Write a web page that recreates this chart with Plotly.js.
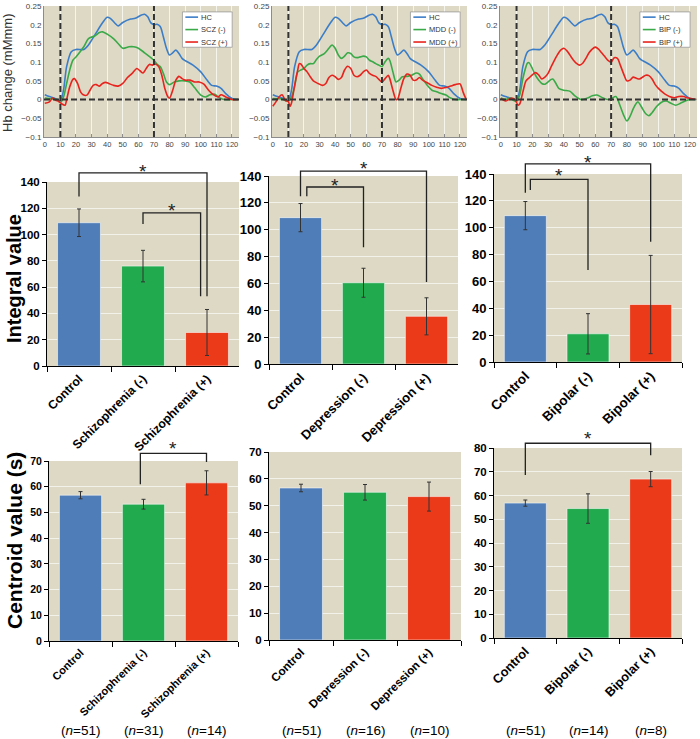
<!DOCTYPE html>
<html>
<head>
<meta charset="utf-8">
<script src="https://cdn.plot.ly/plotly-3.0.1.min.js"></script>
<style>
  body { margin: 0; background: #fff; }
  #graph { width: 700px; height: 739px; }
</style>
</head>
<body>
<div id="graph"></div>
<script>
// 時間軸の目盛り (s)
const timeTicks = [0, 10, 20, 30, 40, 50, 60, 70, 80, 90, 100, 110, 120];

// HC（健常者）の波形 — 3つのグラフで共通
const hcT = [0, 3, 6, 8, 10, 12, 14, 17, 20, 25, 28, 32, 37, 40, 42, 45, 47, 50, 55, 58, 62, 64, 66, 68, 70, 72, 74, 76, 78, 80, 82, 84, 86, 88, 90, 95, 100, 104, 107, 110, 113, 116, 120, 124];
const hcV = [0.013, 0.008, 0.004, 0, -0.004, 0.025, 0.088, 0.128, 0.134, 0.134, 0.146, 0.172, 0.205, 0.22, 0.217, 0.204, 0.197, 0.206, 0.215, 0.217, 0.226, 0.228, 0.221, 0.205, 0.2, 0.201, 0.195, 0.168, 0.137, 0.119, 0.125, 0.132, 0.123, 0.11, 0.104, 0.092, 0.074, 0.052, 0.038, 0.036, 0.03, 0.016, 0.003, 0];

// 統合失調症
const sczNegT = [0, 4, 8, 10, 12, 14, 16, 18, 20, 25, 28, 32, 35, 37, 40, 44, 47, 50, 54, 57, 60, 64, 68, 70, 72, 74, 76, 78, 80, 83, 86, 90, 93, 96, 100, 103, 106, 109, 112, 115, 120, 124];
const sczNegV = [0.004, 0.002, 0, -0.008, 0.007, 0.043, 0.079, 0.105, 0.114, 0.141, 0.163, 0.17, 0.179, 0.181, 0.175, 0.163, 0.15, 0.137, 0.141, 0.141, 0.137, 0.125, 0.112, 0.105, 0.094, 0.088, 0.07, 0.047, 0.04, 0.047, 0.05, 0.05, 0.047, 0.032, 0.012, 0.007, 0.013, 0.014, 0.005, 0, 0, 0];
const sczPosT = [0, 3, 5, 7, 9, 11, 13, 14, 16, 18, 19, 21, 23, 25, 27, 29, 31, 33, 35, 37, 39, 41, 44, 47, 50, 53, 56, 59, 61, 63, 65, 67, 69, 71, 73, 75, 77, 79, 80, 82, 84, 86, 88, 90, 93, 96, 99, 102, 105, 108, 111, 113, 116, 120, 124];
const sczPosV = [-0.01, -0.006, 0.004, -0.002, -0.005, -0.012, -0.015, 0, 0.034, 0.054, 0.056, 0.043, 0.02, 0.012, 0.012, 0.025, 0.038, 0.04, 0.036, 0.043, 0.046, 0.043, 0.038, 0.036, 0.043, 0.059, 0.07, 0.083, 0.077, 0.071, 0.083, 0.094, 0.092, 0.095, 0.088, 0.065, 0.029, 0.007, 0.004, 0.025, 0.052, 0.062, 0.056, 0.052, 0.052, 0.047, 0.047, 0.041, 0.025, 0.013, 0.007, 0.013, 0.007, 0, 0];

// うつ病
const mddNegT = [0, 5, 10, 12, 14, 16, 18, 20, 22, 24, 26, 28, 30, 33, 36, 38, 40, 42, 44, 46, 48, 50, 52, 54, 56, 58, 60, 62, 64, 66, 68, 70, 72, 74, 75, 77, 79, 81, 83, 86, 89, 92, 94, 96, 99, 102, 105, 108, 111, 114, 117, 120, 124];
const mddNegV = [0.003, 0.002, -0.004, 0.007, 0.035, 0.074, 0.079, 0.083, 0.092, 0.096, 0.096, 0.107, 0.116, 0.123, 0.137, 0.146, 0.137, 0.119, 0.11, 0.116, 0.125, 0.123, 0.114, 0.112, 0.114, 0.116, 0.114, 0.105, 0.101, 0.096, 0.092, 0.088, 0.101, 0.11, 0.105, 0.074, 0.047, 0.052, 0.061, 0.062, 0.065, 0.071, 0.068, 0.056, 0.038, 0.025, 0.021, 0.016, 0.012, 0.004, 0, 0, 0];
const mddPosT = [0, 2, 4, 6, 8, 10, 11, 12, 14, 16, 17, 18, 20, 22, 24, 26, 29, 32, 34, 36, 38, 40, 42, 44, 46, 48, 50, 52, 54, 56, 58, 60, 62, 64, 66, 68, 70, 72, 74, 75, 77, 79, 80, 82, 84, 86, 88, 90, 92, 94, 96, 99, 102, 105, 108, 111, 114, 117, 120, 122, 124];
const mddPosV = [-0.018, -0.006, 0.007, 0.013, -0.002, -0.006, -0.018, -0.009, 0.038, 0.079, 0.096, 0.095, 0.083, 0.074, 0.061, 0.05, 0.043, 0.038, 0.043, 0.059, 0.065, 0.061, 0.054, 0.059, 0.079, 0.089, 0.083, 0.065, 0.061, 0.065, 0.074, 0.079, 0.07, 0.065, 0.062, 0.054, 0.047, 0.056, 0.065, 0.056, 0.025, 0, 0.001, 0.029, 0.056, 0.068, 0.065, 0.052, 0.052, 0.059, 0.052, 0.045, 0.038, 0.033, 0.03, 0.032, 0.036, 0.04, 0.042, 0.02, 0];

// 双極性障害
const bipNegT = [0, 3, 6, 8, 10, 12, 14, 16, 17, 18, 20, 22, 24, 26, 28, 30, 32, 33, 35, 37, 40, 44, 47, 51, 55, 58, 61, 65, 68, 70, 73, 76, 78, 80, 82, 84, 86, 87, 90, 92, 94, 96, 99, 102, 105, 108, 111, 114, 117, 120, 124];
const bipNegV = [0.004, 0, 0.004, -0.002, -0.005, 0.012, 0.056, 0.088, 0.098, 0.098, 0.083, 0.065, 0.052, 0.043, 0.041, 0.047, 0.054, 0.055, 0.043, 0.029, 0.025, 0.022, 0.01, 0, 0.004, 0.01, 0.012, 0.004, 0, 0.002, 0.008, -0.02, -0.042, -0.057, -0.045, -0.025, -0.01, -0.006, -0.025, -0.038, -0.043, -0.035, -0.018, -0.007, -0.004, -0.01, -0.015, -0.01, -0.004, 0, 0];
const bipPosT = [0, 3, 5, 7, 9, 11, 12, 14, 16, 18, 20, 22, 24, 26, 28, 30, 32, 34, 36, 38, 40, 42, 44, 46, 48, 50, 52, 54, 56, 58, 60, 62, 64, 66, 68, 70, 72, 74, 76, 78, 80, 82, 84, 86, 88, 90, 92, 94, 96, 98, 100, 102, 104, 107, 110, 113, 116, 119, 124];
const bipPosV = [0.003, -0.004, 0, 0.004, 0, -0.015, -0.012, 0.02, 0.05, 0.058, 0.066, 0.072, 0.066, 0.055, 0.06, 0.07, 0.088, 0.105, 0.12, 0.132, 0.137, 0.13, 0.118, 0.106, 0.097, 0.092, 0.097, 0.11, 0.125, 0.135, 0.14, 0.135, 0.125, 0.115, 0.105, 0.1, 0.112, 0.11, 0.09, 0.068, 0.05, 0.052, 0.06, 0.057, 0.055, 0.06, 0.065, 0.064, 0.055, 0.04, 0.03, 0.022, 0.015, 0.008, 0.005, 0.008, 0.008, 0.004, 0];

const sczNames = ["HC", "SCZ (-)", "SCZ (+)"];
const mddNames = ["HC", "MDD (-)", "MDD (+)"];
const bipNames = ["HC", "BIP (-)", "BIP (+)"];

// 棒グラフのカテゴリ
const sczCats = ["Control", "Schizophrenia (-)", "Schizophrenia (+)"];
const depCats = ["Control", "Depression (-)", "Depression (+)"];
const bipCats = ["Control", "Bipolar (-)", "Bipolar (+)"];

// Integral value（平均 ± 誤差）
const sczIntMean = [109, 76, 25.5];
const sczIntErr = [10.5, 12, 17.5];
const depIntMean = [109, 60.5, 35.5];
const depIntErr = [10.5, 10.8, 13.8];
const bipIntMean = [109, 21, 42.8];
const bipIntErr = [10.5, 15, 36.6];

// Centroid value (s)
const sczCenMean = [56.7, 53.2, 61.5];
const sczCenErr = [1.4, 1.9, 4.7];
const depCenMean = [56.6, 55.0, 53.4];
const depCenErr = [1.4, 2.9, 5.4];
const bipCenMean = [56.8, 54.5, 66.9];
const bipCenErr = [1.3, 6.2, 3.2];

// 人数
const sczN = [51, 31, 14];
const depN = [51, 16, 10];
const bipN = [51, 14, 8];

// ---- 見た目の設定 ----
const W = 700, H = 739;
const FONT = "Liberation Sans, Arial, sans-serif";
const BG = "#ddd9c4";
const LINE_COLORS = ["#3b7dc8", "#3aa948", "#e8221d"];
const BAR_COLORS = ["#4f7db8", "#22aa4f", "#ea3a1a"];

// 各グラフの描画領域（ピクセル）
const topBoxes = [[44, 239, 6, 137], [272, 467, 6, 137], [500, 697, 6, 137]];
const midBoxes = [[47, 239, 182, 366], [269, 458, 176, 364], [494, 682, 174, 362]];
const botBoxes = [[49, 238, 461, 641], [269, 461, 452, 640], [494, 682, 448, 638]];

function sfx(k) { return k === 1 ? "" : String(k); }
function xDom(b) { return [b[0] / W, b[1] / W]; }
function yDom(b) { return [1 - b[3] / H, 1 - b[2] / H]; }
// カテゴリ番号 → x domain 内の位置
function catDom(i) { return (i + 0.5) / 3; }

const data = [];
const layout = {
  width: W, height: H,
  margin: { l: 0, r: 0, t: 0, b: 0 },
  paper_bgcolor: "#ffffff",
  plot_bgcolor: BG,
  font: { family: FONT, color: "#000" },
  showlegend: false,
  bargap: 0.33,
  shapes: [],
  annotations: []
};

// ---- 上段：Hb 変化の波形 ----
const topGroups = [
  { series: [[hcT, hcV], [sczNegT, sczNegV], [sczPosT, sczPosV]], names: sczNames },
  { series: [[hcT, hcV], [mddNegT, mddNegV], [mddPosT, mddPosV]], names: mddNames },
  { series: [[hcT, hcV], [bipNegT, bipNegV], [bipPosT, bipPosV]], names: bipNames }
];

topGroups.forEach((g, i) => {
  const k = i + 1, s = sfx(k), b = topBoxes[i];
  layout["xaxis" + s] = {
    domain: xDom(b), anchor: "y" + s, range: [-0.5, 124.5],
    tickmode: "array", tickvals: timeTicks, tickangle: 0,
    tickfont: { size: 7.5, color: "#444" },
    showgrid: true, gridcolor: "rgba(255,255,255,0.7)", gridwidth: 1,
    zeroline: false, showline: true, linecolor: "#8c8c8c",
    ticks: "inside", ticklen: 3, tickcolor: "#8c8c8c", fixedrange: true
  };
  layout["yaxis" + s] = {
    domain: yDom(b), anchor: "x" + s, range: [-0.1, 0.25], dtick: 0.05, tick0: 0,
    tickfont: { size: 8, color: "#444" },
    showgrid: false, zeroline: false, showline: true, linecolor: "#8c8c8c",
    fixedrange: true
  };
  g.series.forEach((sr, j) => {
    data.push({
      type: "scatter", mode: "lines", x: sr[0], y: sr[1],
      xaxis: "x" + s, yaxis: "y" + s, name: g.names[j],
      line: { color: LINE_COLORS[j], width: 1.6, shape: "spline", smoothing: 0.8 },
      hoverinfo: "skip"
    });
  });
  // 破線（0 と 10 s, 70 s）
  const dash = { color: "#333", width: 2, dash: "6px,3px" };
  layout.shapes.push({ type: "line", xref: "x" + s, yref: "y" + s, x0: -0.5, x1: 124.5, y0: 0, y1: 0, line: dash });
  [10, 70].forEach(t => {
    layout.shapes.push({ type: "line", xref: "x" + s, yref: "y" + s, x0: t, x1: t, y0: -0.1, y1: 0.25, line: dash });
  });
  // 凡例（小さな枠）
  const xr = "x" + s + " domain", yr = "y" + s + " domain";
  const lx = 0.71;
  layout.shapes.push({ type: "rect", xref: xr, yref: yr, x0: lx, x1: lx + 0.255, y0: 0.685, y1: 0.955,
    fillcolor: "#ffffff", line: { color: "#9a9a9a", width: 0.8 }, layer: "above" });
  [0.915, 0.82, 0.725].forEach((yy, j) => {
    layout.shapes.push({ type: "line", xref: xr, yref: yr, x0: lx + 0.015, x1: lx + 0.08, y0: yy, y1: yy,
      line: { color: LINE_COLORS[j], width: 1.6 }, layer: "above" });
    layout.annotations.push({ xref: xr, yref: yr, x: lx + 0.085, y: yy, xanchor: "left", yanchor: "middle",
      text: g.names[j], showarrow: false, font: { size: 7.5, color: "#333" } });
  });
});

// ---- 中段・下段：棒グラフ ----
const barGroups = [
  { cats: sczCats, mean: sczIntMean, err: sczIntErr, box: midBoxes[0], max: 140, dtick: 20, xf: 12.2, yf: 11.5 },
  { cats: depCats, mean: depIntMean, err: depIntErr, box: midBoxes[1], max: 140, dtick: 20, xf: 13, yf: 13 },
  { cats: bipCats, mean: bipIntMean, err: bipIntErr, box: midBoxes[2], max: 140, dtick: 20, xf: 13.5, yf: 13 },
  { cats: sczCats, mean: sczCenMean, err: sczCenErr, box: botBoxes[0], max: 70, dtick: 10, xf: 11, yf: 10.5, n: sczN },
  { cats: depCats, mean: depCenMean, err: depCenErr, box: botBoxes[1], max: 70, dtick: 10, xf: 11.7, yf: 11.5, n: depN },
  { cats: bipCats, mean: bipCenMean, err: bipCenErr, box: botBoxes[2], max: 80, dtick: 10, xf: 12.8, yf: 11.5, n: bipN }
];

// 有意差のブラケット: l/r = カテゴリ位置, lb/rb = 縦線の下端, top = 横線, star = * の位置
const brackets = [
  [{ l: 0, lb: 129, r: 2, rb: 53, top: 147, star: 151 }, { l: 1, lb: 108, r: 1.9, rb: 53, top: 116.5, star: 121 }],
  [{ l: 0, lb: 125, r: 2, rb: 61, top: 143.7, star: 148.7 }, { l: 0.1, lb: 125, r: 1, rb: 87, top: 131.8, star: 135.7 }],
  [{ l: 0, lb: 126, r: 2, rb: 89.5, top: 147.5, star: 151.2 }, { l: 0.08, lb: 128, r: 1, rb: 68.5, top: 136, star: 141.8 }],
  [{ l: 0.95, lb: 61, r: 2, rb: 69.6, top: 73, star: 76.6 }],
  [],
  [{ l: 0, lb: 68.6, r: 2, rb: 77, top: 82, star: 85.5 }]
];

barGroups.forEach((g, i) => {
  const k = i + 4, s = sfx(k), b = g.box;
  layout["xaxis" + s] = {
    domain: xDom(b), anchor: "y" + s, type: "category",
    tickson: "boundaries", ticks: "outside", ticklen: 5, tickcolor: "#000",
    showline: true, linecolor: "#000", linewidth: 1,
    tickangle: -45, tickfont: { size: g.xf, weight: "bold", color: "#000" },
    showgrid: false, fixedrange: true
  };
  layout["yaxis" + s] = {
    domain: yDom(b), anchor: "x" + s, range: [0, g.max], dtick: g.dtick, tick0: 0,
    ticks: "outside", ticklen: 4, tickcolor: "#000",
    showline: true, linecolor: "#000", linewidth: 1,
    tickfont: { size: g.yf, weight: "bold", color: "#000" },
    showgrid: true, gridcolor: "rgba(255,255,255,0.65)", gridwidth: 1,
    zeroline: false, fixedrange: true
  };
  data.push({
    type: "bar", x: g.cats, y: g.mean, xaxis: "x" + s, yaxis: "y" + s,
    marker: { color: BAR_COLORS, line: { color: "rgba(255,255,255,0.55)", width: 1 } },
    error_y: { type: "data", array: g.err, visible: true, color: "#333", thickness: 1, width: 2 },
    hoverinfo: "skip"
  });

  const xr = "x" + s + " domain", yr = "y" + s + " domain";
  brackets[i].forEach(br => {
    const x0 = catDom(br.l), x1 = catDom(br.r);
    layout.shapes.push({
      type: "path", xref: xr, yref: yr,
      path: `M${x0},${br.lb / g.max} L${x0},${br.top / g.max} L${x1},${br.top / g.max} L${x1},${br.rb / g.max}`,
      line: { color: "#222", width: 1.3 }
    });
    layout.annotations.push({
      xref: xr, yref: yr, x: (x0 + x1) / 2, y: br.star / g.max, yshift: -4,
      xanchor: "center", yanchor: "middle", text: "*", showarrow: false,
      font: { size: 19, color: "#222" }
    });
  });

  if (g.n) {
    g.n.forEach((nv, j) => {
      layout.annotations.push({
        xref: xr, yref: "paper", x: catDom(j), y: 1 - 730 / H,
        xanchor: "center", yanchor: "middle", showarrow: false,
        text: "(<i>n</i>=" + nv + ")", font: { size: 13.5, color: "#000" }
      });
    });
  }
});

// 縦軸タイトル
layout.annotations.push(
  { xref: "paper", yref: "paper", x: 8 / W, y: 1 - 73 / H, textangle: -90, showarrow: false,
    xanchor: "center", yanchor: "middle", text: "Hb change (mMmm)", font: { size: 13, color: "#333" } },
  { xref: "paper", yref: "paper", x: 14 / W, y: 1 - 279 / H, textangle: -90, showarrow: false,
    xanchor: "center", yanchor: "middle", text: "<b>Integral value</b>", font: { size: 20, color: "#000" } },
  { xref: "paper", yref: "paper", x: 14 / W, y: 1 - 541 / H, textangle: -90, showarrow: false,
    xanchor: "center", yanchor: "middle", text: "<b>Centroid value (s)</b>", font: { size: 21, color: "#000" } }
);

Plotly.newPlot("graph", data, layout, { staticPlot: true });
</script>
</body>
</html>
